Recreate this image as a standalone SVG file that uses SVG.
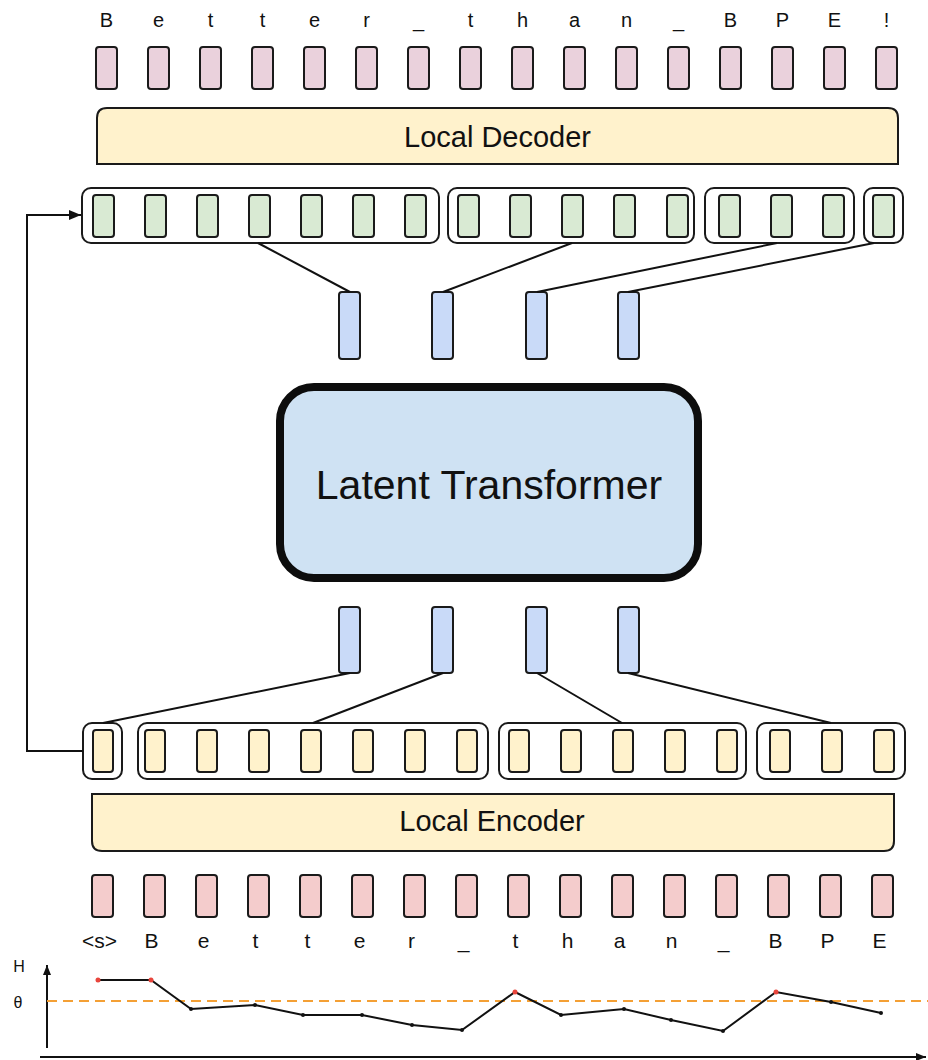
<svg xmlns="http://www.w3.org/2000/svg" width="928" height="1060" viewBox="0 0 928 1060">
  <defs>
    <style>
      .lbl { font-family: "Liberation Sans", Arial, sans-serif; fill: #111; text-anchor: middle; }
      .tok { stroke: #1a1a1a; stroke-width: 2; }
      .out { fill: #ead1dc; }
      .inp { fill: #f4cccc; }
      .dec { fill: #d9ead3; }
      .enc { fill: #fff2cc; }
      .lat { fill: #c9daf8; }
      .grp { fill: none; stroke: #1a1a1a; stroke-width: 2; }
      .bar { fill: #fff2cc; stroke: #1a1a1a; stroke-width: 2; }
      .conn { fill: none; stroke: #111; stroke-width: 2; }
      .pt { fill: #111; }
      .hot { fill: #e8453c; }
    </style>
    <marker id="arrow" viewBox="0 0 12 10" refX="12" refY="5" markerWidth="12" markerHeight="10" markerUnits="userSpaceOnUse" orient="auto">
      <path d="M0,0 L12,5 L0,10 Z" fill="#111"/>
    </marker>
    <marker id="axis" viewBox="0 0 10 8" refX="10" refY="4" markerWidth="10" markerHeight="8" markerUnits="userSpaceOnUse" orient="auto">
      <path d="M0,0 L10,4 L0,8 Z" fill="#111"/>
    </marker>
  </defs>

  <!-- output characters -->
  <g id="output-text" class="lbl" font-size="20">
    <text x="106.5" y="27">B</text><text x="158.5" y="27">e</text><text x="210.5" y="27">t</text><text x="262.5" y="27">t</text>
    <text x="314.5" y="27">e</text><text x="366.5" y="27">r</text><text x="418.5" y="27">_</text><text x="470.5" y="27">t</text>
    <text x="522.5" y="27">h</text><text x="574.5" y="27">a</text><text x="626.5" y="27">n</text><text x="678.5" y="27">_</text>
    <text x="730.5" y="27">B</text><text x="782.5" y="27">P</text><text x="834.5" y="27">E</text><text x="886.5" y="27">!</text>
  </g>

  <!-- output byte embeddings -->
  <g id="output-bytes">
    <rect class="tok out" x="96" y="47" width="21" height="42" rx="3"/><rect class="tok out" x="148" y="47" width="21" height="42" rx="3"/>
    <rect class="tok out" x="200" y="47" width="21" height="42" rx="3"/><rect class="tok out" x="252" y="47" width="21" height="42" rx="3"/>
    <rect class="tok out" x="304" y="47" width="21" height="42" rx="3"/><rect class="tok out" x="356" y="47" width="21" height="42" rx="3"/>
    <rect class="tok out" x="408" y="47" width="21" height="42" rx="3"/><rect class="tok out" x="460" y="47" width="21" height="42" rx="3"/>
    <rect class="tok out" x="512" y="47" width="21" height="42" rx="3"/><rect class="tok out" x="564" y="47" width="21" height="42" rx="3"/>
    <rect class="tok out" x="616" y="47" width="21" height="42" rx="3"/><rect class="tok out" x="668" y="47" width="21" height="42" rx="3"/>
    <rect class="tok out" x="720" y="47" width="21" height="42" rx="3"/><rect class="tok out" x="772" y="47" width="21" height="42" rx="3"/>
    <rect class="tok out" x="824" y="47" width="21" height="42" rx="3"/><rect class="tok out" x="876" y="47" width="21" height="42" rx="3"/>
  </g>

  <!-- local decoder -->
  <g id="local-decoder">
    <path class="bar" d="M97,164 V118 Q97,108 107,108 H888 Q898,108 898,118 V164 Z"/>
    <text class="lbl" x="497.5" y="147" font-size="29">Local Decoder</text>
  </g>

  <!-- decoder patch groups -->
  <g id="decoder-patches">
    <rect class="grp" x="82" y="188" width="357" height="55" rx="9"/>
    <rect class="grp" x="448" y="188" width="246" height="55" rx="9"/>
    <rect class="grp" x="705" y="188" width="149" height="55" rx="9"/>
    <rect class="grp" x="864" y="188" width="39" height="55" rx="9"/>
    <rect class="tok dec" x="93" y="195" width="21" height="42" rx="3"/><rect class="tok dec" x="145" y="195" width="21" height="42" rx="3"/>
    <rect class="tok dec" x="197" y="195" width="21" height="42" rx="3"/><rect class="tok dec" x="249" y="195" width="21" height="42" rx="3"/>
    <rect class="tok dec" x="301" y="195" width="21" height="42" rx="3"/><rect class="tok dec" x="353" y="195" width="21" height="42" rx="3"/>
    <rect class="tok dec" x="405" y="195" width="21" height="42" rx="3"/>
    <rect class="tok dec" x="458" y="195" width="21" height="42" rx="3"/><rect class="tok dec" x="510" y="195" width="21" height="42" rx="3"/>
    <rect class="tok dec" x="562" y="195" width="21" height="42" rx="3"/><rect class="tok dec" x="614" y="195" width="21" height="42" rx="3"/>
    <rect class="tok dec" x="667" y="195" width="21" height="42" rx="3"/>
    <rect class="tok dec" x="719" y="195" width="21" height="42" rx="3"/><rect class="tok dec" x="771" y="195" width="21" height="42" rx="3"/>
    <rect class="tok dec" x="823" y="195" width="21" height="42" rx="3"/>
    <rect class="tok dec" x="873" y="195" width="21" height="42" rx="3"/>
  </g>

  <!-- latent patch embeddings (transformer outputs) -->
  <g id="latent-out">
    <rect class="tok lat" x="339" y="292" width="21" height="67" rx="3"/>
    <rect class="tok lat" x="432" y="292" width="21" height="67" rx="3"/>
    <rect class="tok lat" x="526" y="292" width="21" height="67" rx="3"/>
    <rect class="tok lat" x="618" y="292" width="21" height="67" rx="3"/>
  </g>

  <!-- latent transformer -->
  <g id="latent-transformer">
    <rect x="280" y="387" width="418" height="191" rx="34" fill="#cfe2f3" stroke="#0d0d0d" stroke-width="8"/>
    <text class="lbl" x="489" y="499" font-size="41">Latent Transformer</text>
  </g>

  <!-- latent patch embeddings (transformer inputs) -->
  <g id="latent-in">
    <rect class="tok lat" x="339" y="607" width="21" height="66" rx="3"/>
    <rect class="tok lat" x="432" y="607" width="21" height="66" rx="3"/>
    <rect class="tok lat" x="526" y="607" width="21" height="66" rx="3"/>
    <rect class="tok lat" x="618" y="607" width="21" height="66" rx="3"/>
  </g>

  <!-- encoder patch groups -->
  <g id="encoder-patches">
    <rect class="grp" x="83" y="723" width="39" height="56" rx="9"/>
    <rect class="grp" x="138" y="723" width="350" height="56" rx="9"/>
    <rect class="grp" x="499" y="723" width="247" height="56" rx="9"/>
    <rect class="grp" x="757" y="723" width="148" height="56" rx="9"/>
    <rect class="tok enc" x="93" y="730" width="20" height="42" rx="3"/>
    <rect class="tok enc" x="145" y="730" width="20" height="42" rx="3"/><rect class="tok enc" x="197" y="730" width="20" height="42" rx="3"/>
    <rect class="tok enc" x="249" y="730" width="20" height="42" rx="3"/><rect class="tok enc" x="301" y="730" width="20" height="42" rx="3"/>
    <rect class="tok enc" x="353" y="730" width="20" height="42" rx="3"/><rect class="tok enc" x="405" y="730" width="20" height="42" rx="3"/>
    <rect class="tok enc" x="457" y="730" width="20" height="42" rx="3"/>
    <rect class="tok enc" x="509" y="730" width="20" height="42" rx="3"/><rect class="tok enc" x="561" y="730" width="20" height="42" rx="3"/>
    <rect class="tok enc" x="613" y="730" width="20" height="42" rx="3"/><rect class="tok enc" x="665" y="730" width="20" height="42" rx="3"/>
    <rect class="tok enc" x="717" y="730" width="20" height="42" rx="3"/>
    <rect class="tok enc" x="770" y="730" width="20" height="42" rx="3"/><rect class="tok enc" x="822" y="730" width="20" height="42" rx="3"/>
    <rect class="tok enc" x="874" y="730" width="20" height="42" rx="3"/>
  </g>

  <!-- local encoder -->
  <g id="local-encoder">
    <path class="bar" d="M92,794 H894 V841 Q894,851 884,851 H102 Q92,851 92,841 Z"/>
    <text class="lbl" x="492" y="831" font-size="29">Local Encoder</text>
  </g>

  <!-- input byte embeddings -->
  <g id="input-bytes">
    <rect class="tok inp" x="92" y="875" width="21" height="42" rx="3"/><rect class="tok inp" x="144" y="875" width="21" height="42" rx="3"/>
    <rect class="tok inp" x="196" y="875" width="21" height="42" rx="3"/><rect class="tok inp" x="248" y="875" width="21" height="42" rx="3"/>
    <rect class="tok inp" x="300" y="875" width="21" height="42" rx="3"/><rect class="tok inp" x="352" y="875" width="21" height="42" rx="3"/>
    <rect class="tok inp" x="404" y="875" width="21" height="42" rx="3"/><rect class="tok inp" x="456" y="875" width="21" height="42" rx="3"/>
    <rect class="tok inp" x="508" y="875" width="21" height="42" rx="3"/><rect class="tok inp" x="560" y="875" width="21" height="42" rx="3"/>
    <rect class="tok inp" x="612" y="875" width="21" height="42" rx="3"/><rect class="tok inp" x="664" y="875" width="21" height="42" rx="3"/>
    <rect class="tok inp" x="716" y="875" width="21" height="42" rx="3"/><rect class="tok inp" x="768" y="875" width="21" height="42" rx="3"/>
    <rect class="tok inp" x="820" y="875" width="21" height="42" rx="3"/><rect class="tok inp" x="872" y="875" width="21" height="42" rx="3"/>
  </g>

  <!-- input characters -->
  <g id="input-text" class="lbl" font-size="21">
    <text x="99.5" y="948">&lt;s&gt;</text><text x="151.5" y="948">B</text><text x="203.5" y="948">e</text><text x="255.5" y="948">t</text>
    <text x="307.5" y="948">t</text><text x="359.5" y="948">e</text><text x="411.5" y="948">r</text><text x="463.5" y="948">_</text>
    <text x="515.5" y="948">t</text><text x="567.5" y="948">h</text><text x="619.5" y="948">a</text><text x="671.5" y="948">n</text>
    <text x="723.5" y="948">_</text><text x="775.5" y="948">B</text><text x="827.5" y="948">P</text><text x="879.5" y="948">E</text>
  </g>

  <!-- connectors -->
  <g id="connectors">
    <line class="conn" x1="258" y1="243" x2="350" y2="292"/>
    <line class="conn" x1="572" y1="243" x2="443" y2="292"/>
    <line class="conn" x1="777" y1="243" x2="537" y2="292"/>
    <line class="conn" x1="874" y1="243" x2="628" y2="292"/>
    <line class="conn" x1="350" y1="673" x2="103" y2="723"/>
    <line class="conn" x1="443" y1="673" x2="313" y2="723"/>
    <line class="conn" x1="537" y1="673" x2="622" y2="723"/>
    <line class="conn" x1="628" y1="673" x2="831" y2="723"/>
    <path class="conn" d="M83,751 H27 V215 H81" marker-end="url(#arrow)"/>
  </g>

  <!-- entropy plot -->
  <g id="entropy-plot">
    <text class="lbl" x="19" y="972" font-size="16">H</text>
    <text class="lbl" x="18" y="1008" font-size="16">θ</text>
    <line class="conn" x1="47" y1="1048" x2="47" y2="965" marker-end="url(#axis)"/>
    <line class="conn" x1="40" y1="1057" x2="926" y2="1057" marker-end="url(#axis)"/>
    <line x1="47" y1="1001" x2="928" y2="1001" stroke="#f4a035" stroke-width="2" stroke-dasharray="10,6"/>
    <polyline class="conn" points="98,980 151,980 191,1009 255,1005 303,1015 362,1015 412,1025 462,1030 515,992 561,1015 624,1009 671,1020 723,1031 776,992 831,1002 881,1013"/>
    <circle class="hot" cx="98" cy="980" r="2.5"/><circle class="hot" cx="151" cy="980" r="2.5"/>
    <circle class="pt" cx="191" cy="1009" r="2"/><circle class="pt" cx="255" cy="1005" r="2"/>
    <circle class="pt" cx="303" cy="1015" r="2"/><circle class="pt" cx="362" cy="1015" r="2"/>
    <circle class="pt" cx="412" cy="1025" r="2"/><circle class="pt" cx="462" cy="1030" r="2"/>
    <circle class="hot" cx="515" cy="992" r="2.5"/><circle class="pt" cx="561" cy="1015" r="2"/>
    <circle class="pt" cx="624" cy="1009" r="2"/><circle class="pt" cx="671" cy="1020" r="2"/>
    <circle class="pt" cx="723" cy="1031" r="2"/><circle class="hot" cx="776" cy="992" r="2.5"/>
    <circle class="pt" cx="831" cy="1002" r="2"/><circle class="pt" cx="881" cy="1013" r="2"/>
  </g>
</svg>
